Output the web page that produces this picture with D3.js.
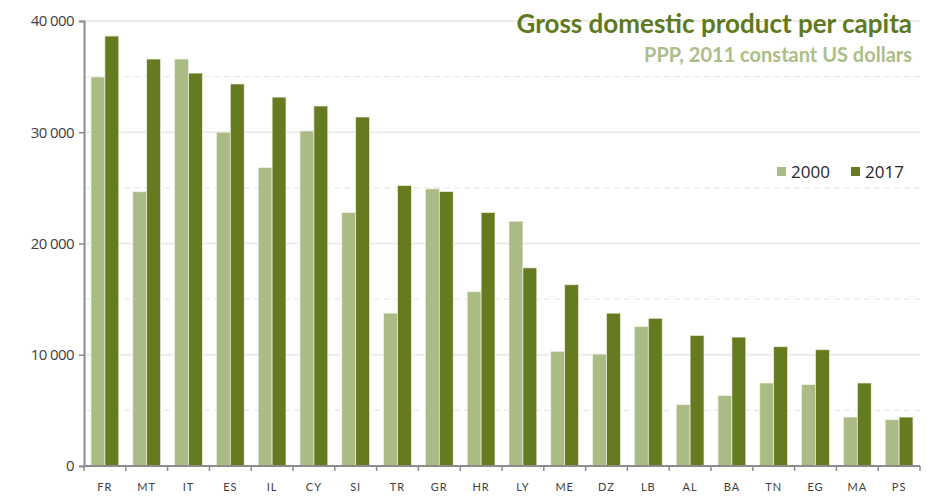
<!DOCTYPE html>
<html>
<head>
<meta charset="utf-8">
<script src="https://cdn.jsdelivr.net/npm/d3@7"></script>
<style>
  body { margin: 0; background: #fff; }
  svg { font-family: Lato, "Open Sans", sans-serif; }
</style>
</head>
<body>
<div id="chart"></div>
<script>
// data
var countries = ['FR','MT','IT','ES','IL','CY','SI','TR','GR','HR','LY','ME','DZ','LB','AL','BA','TN','EG','MA','PS'];
var years = ['2000', '2017'];
var gdp2000 = [34970, 24650, 36580, 30000, 26820, 30120, 22780, 13740, 24910, 15660, 22000, 10310, 10060, 12530, 5510, 6320, 7460, 7310, 4400, 4160];
var gdp2017 = [38650, 36580, 35320, 34340, 33160, 32360, 31370, 25210, 24670, 22790, 17810, 16290, 13740, 13280, 11740, 11590, 10720, 10450, 7460, 4400];
var yTicks = [0, 10000, 20000, 30000, 40000];

var colors = {'2000': '#abbb85', '2017': '#667a20'};

var width = 932, height = 502;
var margin = {top: 21, right: 12, bottom: 36, left: 84};

var svg = d3.select('#chart').append('svg')
    .attr('width', width)
    .attr('height', height);

var x0 = d3.scaleBand()
    .domain(countries)
    .range([margin.left, width - margin.right])
    .padding(0);

var x1 = d3.scaleBand()
    .domain(years)
    .range([7, x0.bandwidth() - 7]);

var y = d3.scaleLinear()
    .domain([0, 40000])
    .range([height - margin.bottom, margin.top]);

// gridlines: solid every 10 000, dashed in between
var g = svg.append('g');
d3.range(5000, 40001, 5000).forEach(function(v) {
  var major = v % 10000 == 0;
  g.append('line')
    .attr('x1', margin.left).attr('x2', width - margin.right)
    .attr('y1', y(v)).attr('y2', y(v))
    .attr('stroke', major ? '#ececec' : '#e4e4e4')
    .attr('stroke-width', major ? 2 : 1)
    .attr('stroke-dasharray', major ? null : '6,4');
});

// bars
var rows = countries.map(function(c, i) {
  return {country: c, values: [{year: '2000', v: gdp2000[i]}, {year: '2017', v: gdp2017[i]}]};
});

svg.append('g').selectAll('g')
  .data(rows)
  .enter().append('g')
    .attr('transform', function(d) { return 'translate(' + x0(d.country) + ',0)'; })
  .selectAll('rect')
  .data(function(d) { return d.values; })
  .enter().append('rect')
    .attr('x', function(d) { return x1(d.year); })
    .attr('y', function(d) { return y(d.v); })
    .attr('width', x1.bandwidth())
    .attr('height', function(d) { return y(0) - y(d.v); })
    .attr('fill', function(d) { return colors[d.year]; })
    .attr('stroke', '#eef2e4')
    .attr('stroke-width', 0.7);

// y axis
var yAxis = d3.axisLeft(y)
    .tickValues(yTicks)
    .tickSize(5)
    .tickFormat(function(d) { return d3.format(',')(d).replace(/,/g, '\u00a0'); });

var ya = svg.append('g')
    .attr('transform', 'translate(' + margin.left + ',0)')
    .call(yAxis);
ya.select('.domain').attr('stroke', '#8c8c8c').attr('stroke-width', 2);
ya.selectAll('.tick line').attr('stroke', '#8c8c8c').attr('stroke-width', 1.5);
ya.selectAll('.tick text')
    .attr('x', -10)
    .attr('fill', '#404040')
    .style('font-size', '15px')
    .style('font-family', '"Open Sans", Lato, sans-serif')
    .style('letter-spacing', '-0.6px');

// x axis with ticks between categories
var xa = svg.append('g')
    .attr('transform', 'translate(0,' + y(0) + ')');
xa.append('line')
    .attr('x1', margin.left).attr('x2', width - margin.right)
    .attr('stroke', '#8c8c8c').attr('stroke-width', 2);
xa.selectAll('line.tk')
    .data(countries.concat(['end']))
  .enter().append('line')
    .attr('class', 'tk')
    .attr('x1', function(d, i) { return margin.left + i * x0.step(); })
    .attr('x2', function(d, i) { return margin.left + i * x0.step(); })
    .attr('y1', 0).attr('y2', 5)
    .attr('stroke', '#8c8c8c').attr('stroke-width', 1.5);
xa.selectAll('text')
    .data(countries)
  .enter().append('text')
    .attr('x', function(d) { return x0(d) + x0.bandwidth() / 2; })
    .attr('y', 25)
    .attr('text-anchor', 'middle')
    .attr('fill', '#404040')
    .style('font-size', '11px')
    .style('letter-spacing', '1px')
    .text(function(d) { return d; });

// title
svg.append('text')
    .attr('x', 912).attr('y', 33)
    .attr('text-anchor', 'end')
    .attr('fill', '#5f7a1e')
    .style('font-size', '26px')
    .style('font-weight', 'bold')
    .text('Gross domestic product per capita');
svg.append('text')
    .attr('x', 912).attr('y', 62)
    .attr('text-anchor', 'end')
    .attr('fill', '#abbe87')
    .style('font-size', '20px')
    .style('font-weight', 'bold')
    .text('PPP, 2011 constant US dollars');

// legend
var leg = svg.append('g').attr('transform', 'translate(777,164)');
years.forEach(function(yr, i) {
  var lg = leg.append('g').attr('transform', 'translate(' + (i * 74) + ',0)');
  lg.append('rect')
    .attr('width', 9).attr('height', 9)
    .attr('y', 3)
    .attr('fill', colors[yr]);
  lg.append('text')
    .attr('x', 14).attr('y', 14)
    .attr('fill', '#262626')
    .style('font-size', '17px')
    .style('font-family', '"Open Sans", Lato, sans-serif')
    .text(yr);
});
</script>
</body>
</html>
